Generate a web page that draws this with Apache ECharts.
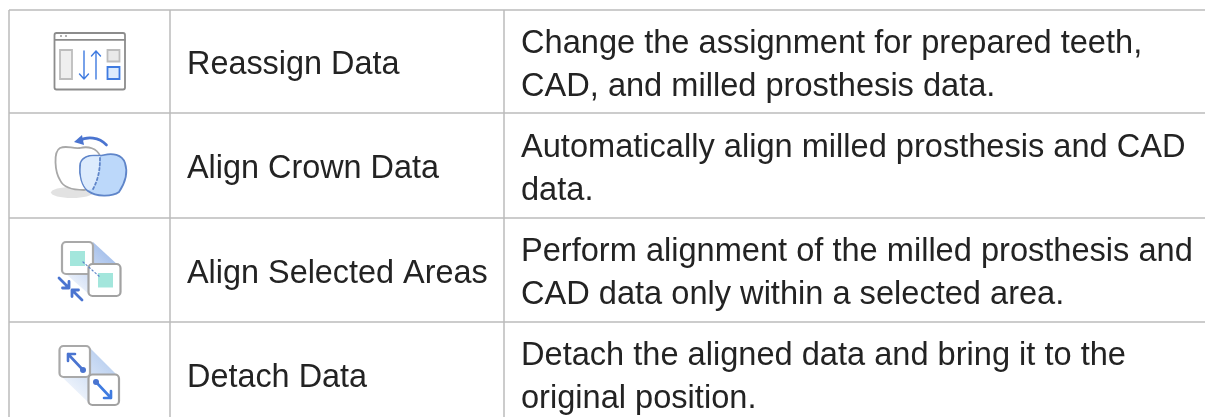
<!DOCTYPE html>
<html>
<head>
<meta charset="utf-8">
<style>
html,body{margin:0;padding:0;background:#fff}
#chart{width:1205px;height:417px}
</style>
<script src="https://cdn.jsdelivr.net/npm/echarts@6/dist/echarts.min.js"></script>
</head>
<body>
<div id="chart"></div>
<script>
// table content
var rowNames = ['Reassign Data', 'Align Crown Data', 'Align Selected Areas', 'Detach Data'];
var descFirst = ['Change the assignment for prepared teeth,', 'Automatically align milled prosthesis and CAD', 'Perform alignment of the milled prosthesis and', 'Detach the aligned data and bring it to the'];
var descSecond = ['CAD, and milled prosthesis data.', 'data.', 'CAD data only within a selected area.', 'original position.'];

// layout of the table, in axis units
var rowEdges = [10, 113, 218, 322];
var rowEnd = 430;
var colEdges = [9, 170, 504];
var nameX = 187, descX = 521, lineGap = 21.5, textShift = 3.8;

var BORDER = '#bbbbbb', INK = '#232323', BLUE = '#3f7be0', DEEP = '#4a74d0';

function box(x, y, w, h, fill, stroke, lw, r) {
    return {type: 'rect', shape: {x: x, y: y, width: w, height: h, r: r || 0}, style: {fill: fill, stroke: stroke, lineWidth: lw}};
}
function stroke(d, color, lw, dash) {
    return {type: 'path', shape: {pathData: d}, style: {fill: 'none', stroke: color, lineWidth: lw, lineDash: dash || null, lineCap: 'round', lineJoin: 'round'}};
}
function fill(d, color) {
    return {type: 'path', shape: {pathData: d}, style: {fill: color}};
}
function band(points, from, to) {
    return {type: 'polygon', shape: {points: points}, style: {fill: new echarts.graphic.LinearGradient(1, 0, 0, 1, [
        {offset: 0, color: from}, {offset: 1, color: to}])}};
}
function dot(x, y, r, color) {
    return {type: 'circle', shape: {cx: x, cy: y, r: r}, style: {fill: color}};
}

// icons are drawn with the coordinates of the row they belong to
var icons = [
    function () {
        return [
            box(54.5, 33, 70.5, 56.5, '#fff', '#8c8c8c', 1.8, 2),
            stroke('M55 39.8L125 39.8', '#8c8c8c', 1.8),
            dot(61, 36, 1, '#999'), dot(66, 36, 1, '#999'),
            box(60, 50, 12, 29, '#efefef', '#bdbdbd', 1.8),
            stroke('M84 51L84 79M79.5 74L84 79L88.5 74', BLUE, 1.4),
            stroke('M96 79L96 51M91.5 56L96 51L100.5 56', BLUE, 1.4),
            box(107.5, 50, 12, 11.5, '#e9e9e9', '#bdbdbd', 1.8),
            box(107.5, 67, 12, 12, '#dcebfd', BLUE, 1.8)
        ];
    },
    function () {
        return [
            {type: 'ellipse', shape: {cx: 72, cy: 192.5, rx: 21, ry: 5.5}, style: {fill: '#e2e2e2'}},
            {type: 'path', shape: {pathData: 'M60 148C67 145 72 149 80 148C88 146 97 148 100 156L100 185L84 190C75 190 64 189 60 180C55 172 53 152 60 148Z'},
                style: {fill: '#fff', stroke: '#a8a8a8', lineWidth: 1.8}},
            {type: 'path', shape: {pathData: 'M86 157C92 154 98 157 104 155C112 153 122 154 125 163C128 172 125 183 119 192C112 197 96 197 88 191C82 186 79 175 80 166C80 161 82 159 86 157Z'},
                style: {fill: '#bcd8fa', stroke: '#5f85c9', lineWidth: 1.8}},
            fill('M86 158C92 155 97 157 100 156L99 178L93 189L88 190C82 186 80 175 81 166C81 161 83 160 86 158Z', '#dcebfd'),
            stroke('M100 158C100 168 99 178 93 189', '#5f85c9', 1.8, [2.5, 2.5]),
            stroke('M106.5 145C99 137 87 136 79 141', DEEP, 2.6),
            fill('M74 142L82 135L84 145Z', DEEP)
        ];
    },
    function () {
        return [
            band([[93, 242], [119, 266], [91, 296], [66, 274]], '#8fb0e6', '#ffffff'),
            box(62, 242, 31, 32, '#fff', '#a9a9a9', 2.2, 4),
            box(70, 251, 15, 15, '#a3e6dc', 'none', 0),
            box(88.5, 264, 32, 32, '#fff', '#a2a2a2', 2.2, 4),
            box(98, 273, 15, 14.5, '#a3e6dc', 'none', 0),
            stroke('M83 262L100 277', '#5f85c9', 1.2, [1.5, 2.5]),
            stroke('M59 278L69 288M69 281.5L69 288L62.5 288', DEEP, 2.8),
            stroke('M82 300L72 290M72 296.5L72 290L78.5 290', DEEP, 2.8)
        ];
    },
    function () {
        return [
            band([[90, 348], [118, 376], [90, 404], [62, 377]], '#a9c4ec', '#ffffff'),
            box(59.5, 346, 30.5, 31, '#fff', '#a9a9a9', 2.2, 4),
            box(88.5, 374.5, 30.5, 30.5, '#fff', '#a2a2a2', 2.2, 4),
            stroke('M83 370L68 354M68 361L68 354L75 354', DEEP, 2.6),
            dot(83, 370, 3, DEEP),
            stroke('M96 382L111 398M111 391L111 398L104 398', BLUE, 2.6),
            dot(96, 382, 3, DEEP)
        ];
    }
];

function label(text, x, y, size) {
    return {type: 'text', x: x, y: y, style: {text: text, fill: INK, font: size + 'px "Liberation Sans"', verticalAlign: 'middle', align: 'left'}};
}
function rule(x1, y1, x2, y2) {
    return {type: 'line', shape: {x1: x1, y1: y1, x2: x2, y2: y2}, style: {stroke: BORDER, lineWidth: 1.5}};
}

function renderRow(params, api) {
    var i = api.value(0);
    var top = api.coord([0, rowEdges[i]])[1];
    var next = i + 1 < rowEdges.length ? rowEdges[i + 1] : rowEnd;
    var bottom = api.coord([0, next])[1];
    var mid = (i + 1 < rowEdges.length ? (top + bottom) / 2 : top + 52) + textShift;
    var kids = [rule(colEdges[0], top, 1205, top)];
    colEdges.forEach(function (x) { kids.push(rule(x, top, x, bottom)); });
    kids = kids.concat(icons[i]());
    kids.push(label(rowNames[i], nameX, mid, 32.4));
    kids.push(label(descFirst[i], descX, mid - lineGap, 32.6));
    kids.push(label(descSecond[i], descX, mid + lineGap, 32.6));
    return {type: 'group', children: kids};
}

var myChart = echarts.init(document.getElementById('chart'));
myChart.setOption({
    animation: false,
    backgroundColor: '#fff',
    grid: {left: 0, right: 0, top: 0, bottom: 0},
    xAxis: {type: 'value', min: 0, max: 1205, show: false},
    yAxis: {type: 'value', min: 0, max: 417, inverse: true, show: false},
    series: [{
        type: 'custom',
        clip: true,
        silent: true,
        renderItem: renderRow,
        data: rowNames.map(function (n, i) { return [i]; })
    }]
});
</script>
</body>
</html>
